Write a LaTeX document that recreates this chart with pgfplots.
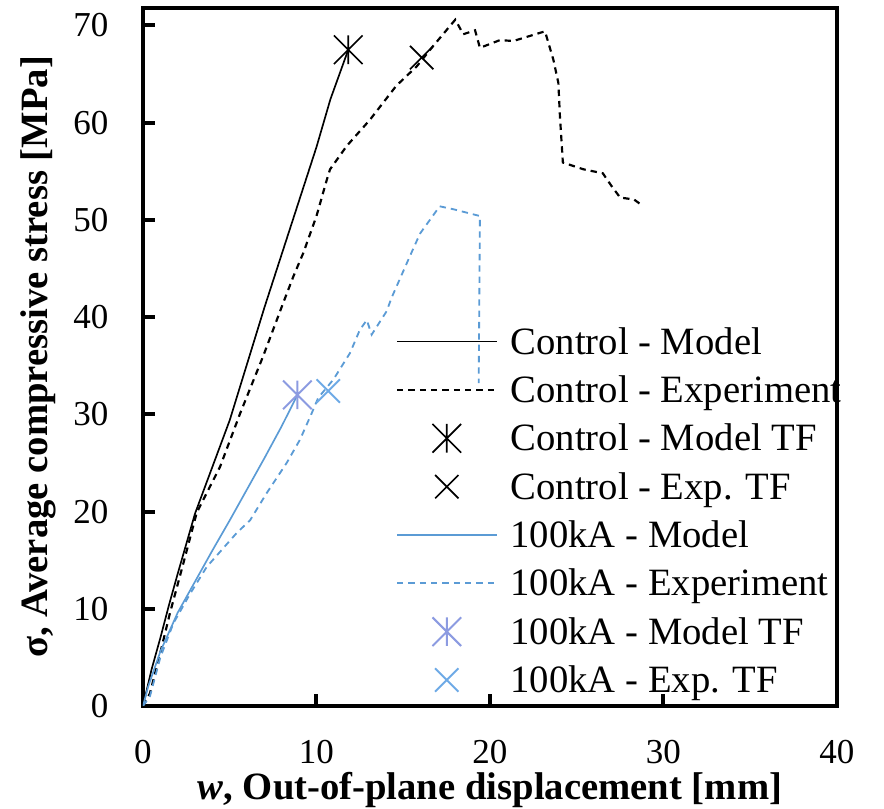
\documentclass[border=0pt]{standalone}
\usepackage{fontspec}
\setmainfont{Liberation Serif}
\usepackage{pgfplots}
\pgfplotsset{compat=1.18}
\definecolor{cblue}{RGB}{91,155,213}
\definecolor{cast}{RGB}{140,155,225}
\definecolor{cxm}{RGB}{110,170,230}
\pgfdeclareplotmark{xast}{%
  \pgfpathmoveto{\pgfqpoint{0pt}{-\pgfplotmarksize}}\pgfpathlineto{\pgfqpoint{0pt}{\pgfplotmarksize}}%
  \pgfpathmoveto{\pgfqpoint{-\pgfplotmarksize}{-\pgfplotmarksize}}\pgfpathlineto{\pgfqpoint{\pgfplotmarksize}{\pgfplotmarksize}}%
  \pgfpathmoveto{\pgfqpoint{-\pgfplotmarksize}{\pgfplotmarksize}}\pgfpathlineto{\pgfqpoint{\pgfplotmarksize}{-\pgfplotmarksize}}%
  \pgfusepathqstroke}
\pgfdeclareplotmark{bigx}{%
  \pgfpathmoveto{\pgfqpoint{-\pgfplotmarksize}{-\pgfplotmarksize}}\pgfpathlineto{\pgfqpoint{\pgfplotmarksize}{\pgfplotmarksize}}%
  \pgfpathmoveto{\pgfqpoint{-\pgfplotmarksize}{\pgfplotmarksize}}\pgfpathlineto{\pgfqpoint{\pgfplotmarksize}{-\pgfplotmarksize}}%
  \pgfusepathqstroke}
\begin{document}
\begin{tikzpicture}
\begin{axis}[
  scale only axis,
  width=208.2pt, height=209.4pt,
  xmin=0, xmax=40, ymin=0, ymax=71.8,
  xtick={0,10,20,30,40}, ytick={0,10,20,30,40,50,60,70},
  tick align=inside, xtick pos=bottom, ytick pos=left,
  major tick length=3.6pt,
  axis line style={line width=1.2pt},
  every tick/.style={black, line width=1.2pt},
  /pgf/number format/assume math mode=true,
  tick label style={font=\fontsize{10.5}{12}\selectfont},
  yticklabel style={inner sep=0pt, anchor=east, xshift=-10.2pt},
  xticklabel style={inner sep=0pt, anchor=north, yshift=-10.2pt},
  xlabel={\textbf{\textit{w}, Out-of-plane displacement [mm]}},
  ylabel={\textbf{σ, Average compressive stress [MPa]}},
  label style={font=\fontsize{11.6}{14}\selectfont},
  xlabel style={at={(rel axis cs:0.5,0)}, anchor=center, yshift=-25.2pt},
  ylabel style={at={(rel axis cs:0,0.5)}, anchor=center, yshift=31.5pt},
  legend image code/.code={\draw[mark repeat=2,mark phase=2,#1] plot coordinates {(0cm,0cm) (0.524cm,0cm) (1.048cm,0cm)};},
  legend style={draw=none, fill=none, at={(rel axis cs:0.3646,0.5566)}, anchor=north west,
    inner sep=0pt, outer sep=0pt, row sep=0pt,
    font=\fontsize{11.6}{13}\selectfont,
    nodes={inner sep=0pt, text height=11pt, text depth=3.5pt},
    /tikz/every odd column/.append style={column sep=3.9pt}},
  legend cell align=left,
]
\addplot[black, line width=0.5pt, no markers] coordinates {
(0,0) (0.5,3.8) (1,7.0) (1.5,10.4) (2,13.6) (3,19.8) (4,24.6) (5,29.4) (6,35.2) (7,41) (8,46.5) (9,52) (10,57.5) (10.8,62.4) (11.83,67.5)};
\addlegendentry{Control - Model}
\addplot[black, line width=0.65pt, dash pattern=on 1.9pt off 1.5pt, no markers] coordinates {
(0,0) (0.4,1.3) (1.0,5.5) (1.56,9.6) (2.3,14.5) (3.1,19.9) (4.44,24.6) (5.6,30.1) (6.93,36) (8.09,41.5) (8.67,44.2) (9.24,46.6) (10.0,50.4) (10.59,54.1) (10.78,55.2) (11.74,57.6) (13.08,60.3) (14.6,63.8) (15.78,65.8) (16.73,67.9) (18.0,70.6) (18.46,69.1) (19.14,69.5) (19.42,67.7) (20.58,68.5) (21.34,68.4) (23.17,69.4) (23.65,66.5) (23.94,64.1) (24.03,60.7) (24.2,55.9) (25.4,55.2) (26.5,54.8) (27.0,53.5) (27.5,52.3) (28.3,52.1) (28.84,51.4)};
\addlegendentry{Control - Experiment}
\addplot[black, line width=0.5pt, only marks, mark=xast, mark size=4.3pt] coordinates {(11.83,67.5)};
\addlegendentry{Control - Model TF}
\addplot[black, line width=0.5pt, only marks, mark=bigx, mark size=3.5pt] coordinates {(16.06,66.7)};
\addlegendentry{Control - Exp. TF}
\addplot[cblue, line width=0.5pt, no markers] coordinates {
(0,0) (0.3,2) (1,5.6) (2,9.6) (3,12.8) (4,16) (5,19.1) (6,22.3) (7,25.5) (8,28.8) (8.9,32)};
\addlegendentry{100kA - Model}
\addplot[cblue, line width=0.55pt, dash pattern=on 1.9pt off 1.5pt, no markers] coordinates {
(0,0) (0.4,1.0) (1.0,5.0) (1.75,8.5) (2.7,11.5) (3.67,14.3) (5.4,17.8) (6.17,19.1) (7.13,21.9) (8.28,25.0) (9.05,27.4) (9.72,30.1) (10.1,31.7) (10.98,33.6) (11.93,36.3) (12.5,38.7) (12.9,39.7) (13.18,38.2) (14.04,40.6) (14.33,42.0) (15.39,46.3) (15.97,48.6) (17.1,51.4) (17.88,51.1) (19.42,50.4) (19.35,33.2)};
\addlegendentry{100kA - Experiment}
\addplot[cast, line width=0.6pt, only marks, mark=xast, mark size=4.3pt] coordinates {(8.9,32.0)};
\addlegendentry{100kA - Model TF}
\addplot[cxm, line width=0.6pt, only marks, mark=bigx, mark size=3.5pt] coordinates {(10.68,32.4)};
\addlegendentry{100kA - Exp. TF}
\coordinate (A) at (rel axis cs:0,0);
\coordinate (B) at (rel axis cs:1,1);
\end{axis}
\pgfresetboundingbox
\path[use as bounding box] ([shift={(-42.9pt,-30.9pt)}]A) rectangle ([shift={(14.1pt,2.4pt)}]B);
\end{tikzpicture}
\end{document}
